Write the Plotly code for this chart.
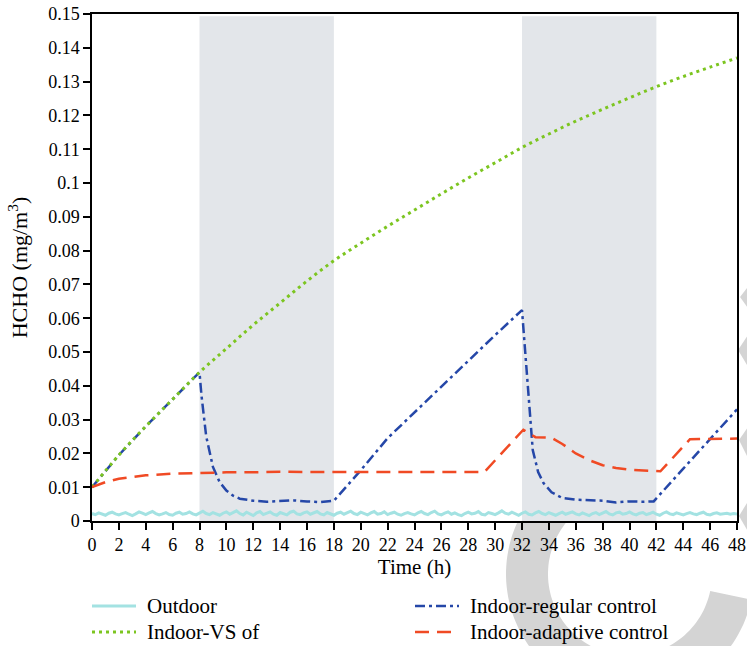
import numpy as np
import plotly.graph_objects as go

# ---------------- data ----------------
outdoor = [
    0.0022, 0.0019, 0.0024, 0.0020, 0.0017, 0.0023, 0.0026, 0.0021, 0.0018, 0.0022,
    0.0025, 0.0020, 0.0016, 0.0021, 0.0027, 0.0023, 0.0019, 0.0024, 0.0028, 0.0022,
    0.0018, 0.0021, 0.0025, 0.0019, 0.0017, 0.0023, 0.0026, 0.0020, 0.0022, 0.0027,
    0.0021, 0.0018, 0.0024, 0.0029, 0.0022, 0.0019, 0.0025, 0.0021, 0.0017, 0.0023,
    0.0027, 0.0020, 0.0024, 0.0030, 0.0022, 0.0018, 0.0026, 0.0021, 0.0016, 0.0024,
    0.0028, 0.0019, 0.0023, 0.0027, 0.0020, 0.0017, 0.0025, 0.0022, 0.0018, 0.0026,
    0.0029, 0.0021, 0.0019, 0.0024, 0.0027, 0.0020, 0.0023, 0.0028, 0.0021, 0.0018,
    0.0025, 0.0022, 0.0017, 0.0023, 0.0026, 0.0020, 0.0024, 0.0029, 0.0022, 0.0019,
    0.0026, 0.0021, 0.0018, 0.0024, 0.0028, 0.0020, 0.0022, 0.0027, 0.0019, 0.0023,
    0.0026, 0.0020, 0.0017, 0.0022, 0.0025, 0.0021, 0.0018, 0.0024, 0.0028, 0.0022,
    0.0019, 0.0025, 0.0029, 0.0021, 0.0018, 0.0023, 0.0027, 0.0020, 0.0024, 0.0019,
    0.0016, 0.0022, 0.0026, 0.0021, 0.0023, 0.0028, 0.0020, 0.0018, 0.0025, 0.0022,
    0.0019, 0.0024, 0.0030, 0.0023, 0.0020, 0.0026, 0.0021, 0.0017, 0.0023, 0.0027,
    0.0020, 0.0018, 0.0024, 0.0028, 0.0022, 0.0019, 0.0025, 0.0021, 0.0017, 0.0022,
    0.0026, 0.0020, 0.0023, 0.0027, 0.0021, 0.0018, 0.0024, 0.0020, 0.0016, 0.0022,
    0.0025, 0.0019, 0.0023, 0.0028, 0.0021, 0.0018, 0.0024, 0.0026, 0.0020, 0.0022,
    0.0027, 0.0021, 0.0018, 0.0023, 0.0025, 0.0019, 0.0022, 0.0026, 0.0020, 0.0017,
    0.0023, 0.0027, 0.0021, 0.0019, 0.0024, 0.0020, 0.0018, 0.0022, 0.0025, 0.0021,
    0.0019, 0.0023, 0.0026, 0.0020, 0.0018, 0.0022, 0.0024, 0.0020, 0.0021, 0.0023,
    0.0020, 0.0022, 0.0021,
]
outdoor_t = [i * 0.25 for i in range(len(outdoor))]

vs_t = [0, 2, 4, 6, 8, 10, 12, 14, 16, 18, 20, 22, 24, 26, 28, 30, 32, 34, 36, 38, 40, 42, 44, 46, 48]
vs_v = [0.0100, 0.0195, 0.0280, 0.0360, 0.0440, 0.0510, 0.0580, 0.0645, 0.0710, 0.0770,
        0.0822, 0.0872, 0.0920, 0.0968, 0.1015, 0.1060, 0.1105, 0.1145, 0.1183, 0.1218,
        0.1252, 0.1285, 0.1315, 0.1343, 0.1370]

reg_t = [0, 2, 4, 6, 8, 8.15, 8.5, 9, 9.5, 10, 10.5, 11, 12, 13, 14, 15, 16, 17, 18,
         20, 22, 26, 30, 32, 32.4, 32.8, 33.2, 33.6, 34.2, 35, 36, 37, 38, 39, 40, 41, 41.8,
         44, 46, 48]
reg_v = [0.0100, 0.0195, 0.0280, 0.0360, 0.0440, 0.0370, 0.0250, 0.0160, 0.0115, 0.0090,
         0.0075, 0.0066, 0.0060, 0.0057, 0.0060, 0.0061, 0.0058, 0.0056, 0.0060,
         0.0150, 0.0245, 0.0398, 0.0550, 0.0624, 0.0410, 0.0210, 0.0145, 0.0112, 0.0085,
         0.0068, 0.0063, 0.0062, 0.0060, 0.0055, 0.0058, 0.0057, 0.0058,
         0.0155, 0.0243, 0.0330]

ada_t = [0, 1, 2, 4, 6, 8, 10, 12, 14, 16, 18, 20, 22, 24, 26, 28, 29.2, 32.1, 33, 34.2,
         35, 36, 37, 38, 39, 40, 41, 42.3, 44.5, 46, 48]
ada_v = [0.0100, 0.0115, 0.0125, 0.0135, 0.0140, 0.0143, 0.0144, 0.0144, 0.0146, 0.0145,
         0.0145, 0.0147, 0.0145, 0.0145, 0.0146, 0.0145, 0.0145, 0.0270, 0.0248, 0.0246,
         0.0228, 0.0200, 0.0180, 0.0165, 0.0157, 0.0152, 0.0149, 0.0147, 0.0242, 0.0243, 0.0244]

dark_periods = [(8, 18), (32, 42)]
x_ticks = list(range(0, 49, 2))
y_tickvals = [i / 100 for i in range(16)]
y_ticktext = ["0", "0.01", "0.02", "0.03", "0.04", "0.05", "0.06", "0.07", "0.08",
              "0.09", "0.1", "0.11", "0.12", "0.13", "0.14", "0.15"]

series_names = ["Outdoor", "Indoor-regular control", "Indoor-VS of", "Indoor-adaptive control"]

# ---------------- figure ----------------
FONT = "Liberation Serif"
W, H = 747, 646
ML, MR, MT, MB = 92, 10, 14, 125
PW, PH = W - ML - MR, H - MT - MB

def px2paper(px, py):
    return (np.asarray(px, float) - ML) / PW, (H - MB - np.asarray(py, float)) / PH

def poly_path(pxs, pys):
    ux, uy = px2paper(pxs, pys)
    return "M " + " L ".join(f"{a:.4f},{b:.4f}" for a, b in zip(ux, uy)) + " Z"

styles = {
    "Outdoor": dict(color="#a3e2e2", width=3),
    "Indoor-regular control": dict(color="#2547a8", width=2.5, dash="10px,4px,3px,4px"),
    "Indoor-VS of": dict(color="#7cc520", width=3, dash="3px,4px"),
    "Indoor-adaptive control": dict(color="#f04a24", width=2.5, dash="14px,8px"),
}

fig = go.Figure()
fig.add_trace(go.Scatter(x=outdoor_t, y=outdoor, mode="lines", name=series_names[0],
                         line=styles["Outdoor"]))
fig.add_trace(go.Scatter(x=reg_t, y=reg_v, mode="lines", name=series_names[1],
                         line=styles["Indoor-regular control"]))
fig.add_trace(go.Scatter(x=vs_t, y=vs_v, mode="lines", name=series_names[2],
                         line=dict(**styles["Indoor-VS of"], shape="spline")))
fig.add_trace(go.Scatter(x=ada_t, y=ada_v, mode="lines", name=series_names[3],
                         line=styles["Indoor-adaptive control"]))

# light grey watermark behind the chart (visible outside plot area only)
WM = "#d4d4d4"
cx, cy, r_in, r_out = 630, 574, 82, 124
th = np.radians(np.linspace(12, 300, 120))
ox = cx + r_out * np.cos(th); oy = cy + r_out * np.sin(th)
ix = cx + r_in * np.cos(th[::-1]); iy = cy + r_in * np.sin(th[::-1])
fig.add_shape(type="path", xref="paper", yref="paper",
              path=poly_path(np.concatenate([ox, ix]), np.concatenate([oy, iy])),
              fillcolor=WM, line=dict(width=0), layer="below")
for tri in [([740, 750, 750], [297, 284, 311]),
            ([738, 750, 750], [350, 332, 370]),
            ([739, 750, 750], [440, 424, 462]),
            ([739, 750, 750], [516, 498, 535])]:
    fig.add_shape(type="path", xref="paper", yref="paper", path=poly_path(*tri),
                  fillcolor=WM, line=dict(width=0), layer="below")

# white plot area covering the watermark, then the shaded periods
fig.add_shape(type="rect", xref="x", yref="y", x0=0, x1=48, y0=0, y1=0.15,
              fillcolor="white", line=dict(width=0), layer="below")
for a, b in dark_periods:
    fig.add_shape(type="rect", xref="x", yref="y", x0=a, x1=b, y0=0, y1=0.1493,
                  fillcolor="#e3e6ea", line=dict(width=0), layer="below")

# legend (two columns below the axes)
leg_pos = {
    "Outdoor": (92, 606),
    "Indoor-VS of": (92, 632),
    "Indoor-regular control": (415, 606),
    "Indoor-adaptive control": (415, 632),
}
for name in series_names:
    lx, ly = leg_pos[name]
    x0, y0 = px2paper(lx, ly)
    x1, _ = px2paper(lx + 44, ly)
    xt, _ = px2paper(lx + 53, ly)
    fig.add_shape(type="line", xref="paper", yref="paper", x0=float(x0), x1=float(x1),
                  y0=float(y0), y1=float(y0), line=styles[name], layer="above")
    fig.add_annotation(xref="paper", yref="paper", x=float(xt), y=float(y0), text=name,
                       showarrow=False, xanchor="left", yanchor="middle",
                       font=dict(family=FONT, size=21, color="black"))

axis_common = dict(showline=True, linecolor="black", linewidth=1.5, mirror=True,
                   ticks="outside", ticklen=7, tickwidth=1.5, tickcolor="black",
                   showgrid=False, zeroline=False, automargin=False,
                   tickfont=dict(family=FONT, size=18, color="black"))

fig.update_xaxes(range=[0, 48], tickvals=x_ticks, ticktext=[str(v) for v in x_ticks],
                 title=dict(text="Time (h)", font=dict(family=FONT, size=21, color="black"),
                            standoff=4),
                 **axis_common)
fig.update_yaxes(range=[0, 0.15], tickvals=y_tickvals, ticktext=y_ticktext,
                 title=dict(text="HCHO (mg/m<sup>3</sup>)",
                            font=dict(family=FONT, size=22, color="black"), standoff=14),
                 **axis_common)

fig.update_layout(
    width=W, height=H, autosize=False,
    margin=dict(l=ML, r=MR, t=MT, b=MB),
    paper_bgcolor="white", plot_bgcolor="white",
    font=dict(family=FONT, size=18, color="black"),
    showlegend=False,
)

fig.write_html("out.html", config={"displayModeBar": False},
               post_script="document.body.style.margin='0px';document.body.style.padding='0px';")
